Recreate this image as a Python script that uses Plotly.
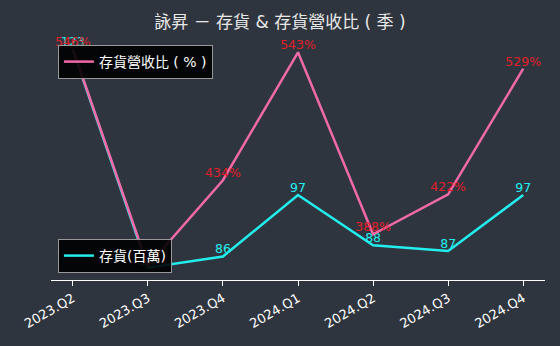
import plotly.graph_objects as go

quarters = ["2023.Q2", "2023.Q3", "2023.Q4", "2024.Q1", "2024.Q2", "2024.Q3", "2024.Q4"]
inventory = [123, 84, 86, 97, 88, 87, 97]          # 存貨(百萬)
ratio = [546, 361, 434, 543, 388, 422, 529]        # 存貨營收比(%)

BG = "#2f353e"
PINK = "#f06aa8"
CYAN = "#22eeee"
RED = "#e0202a"
FONT = "DejaVu Sans, Noto Sans CJK TC, sans-serif"

fig = go.Figure()

fig.add_trace(go.Scatter(
    x=quarters, y=inventory, mode="lines", name="存貨(百萬)",
    line=dict(color=CYAN, width=2.5), yaxis="y", legend="legend2"))
fig.add_trace(go.Scatter(
    x=quarters, y=inventory, mode="text", text=[str(v) for v in inventory],
    textposition="top center", textfont=dict(color=CYAN, size=12.5, family=FONT),
    showlegend=False, yaxis="y", hoverinfo="skip"))
fig.add_trace(go.Scatter(
    x=quarters, y=ratio, mode="lines", name="存貨營收比 ( % )",
    line=dict(color=PINK, width=2.5), yaxis="y2", legend="legend"))
fig.add_trace(go.Scatter(
    x=quarters, y=ratio, mode="text", text=[f"{v}%" for v in ratio],
    textposition="top center", textfont=dict(color=RED, size=12.5, family=FONT),
    showlegend=False, yaxis="y2", hoverinfo="skip"))

fig.update_layout(
    width=560, height=346,
    margin=dict(l=51, r=15, t=30, b=66),
    paper_bgcolor=BG, plot_bgcolor=BG,
    font=dict(family=FONT, color="white", size=12),
    title=dict(text="詠昇 － 存貨 & 存貨營收比 ( 季 )", x=0.5, xanchor="center",
               y=0.935, yanchor="middle",
               font=dict(size=17, color="#e8e8e8", family=FONT)),
    xaxis=dict(type="category", range=[-0.29, 6.29], showgrid=False, zeroline=False,
               showline=True, linecolor="white", linewidth=1,
               ticks="outside", ticklen=5, tickcolor="white", tickangle=-30,
               tickfont=dict(size=13, color="white", family=FONT)),
    yaxis=dict(range=[81.8, 126.5], visible=False, showgrid=False),
    yaxis2=dict(range=[349, 562], overlaying="y", side="right", visible=False, showgrid=False),
    legend=dict(x=0.014, y=0.94, xanchor="left", yanchor="top",
                bgcolor="rgba(0,0,0,0.9)", bordercolor="#999999", borderwidth=1,
                font=dict(size=14, color="white", family=FONT)),
    legend2=dict(x=0.014, y=0.028, xanchor="left", yanchor="bottom",
                 bgcolor="rgba(0,0,0,0.9)", bordercolor="#999999", borderwidth=1,
                 font=dict(size=14, color="white", family=FONT)),
    showlegend=True,
)

fig.write_html("out.html")
